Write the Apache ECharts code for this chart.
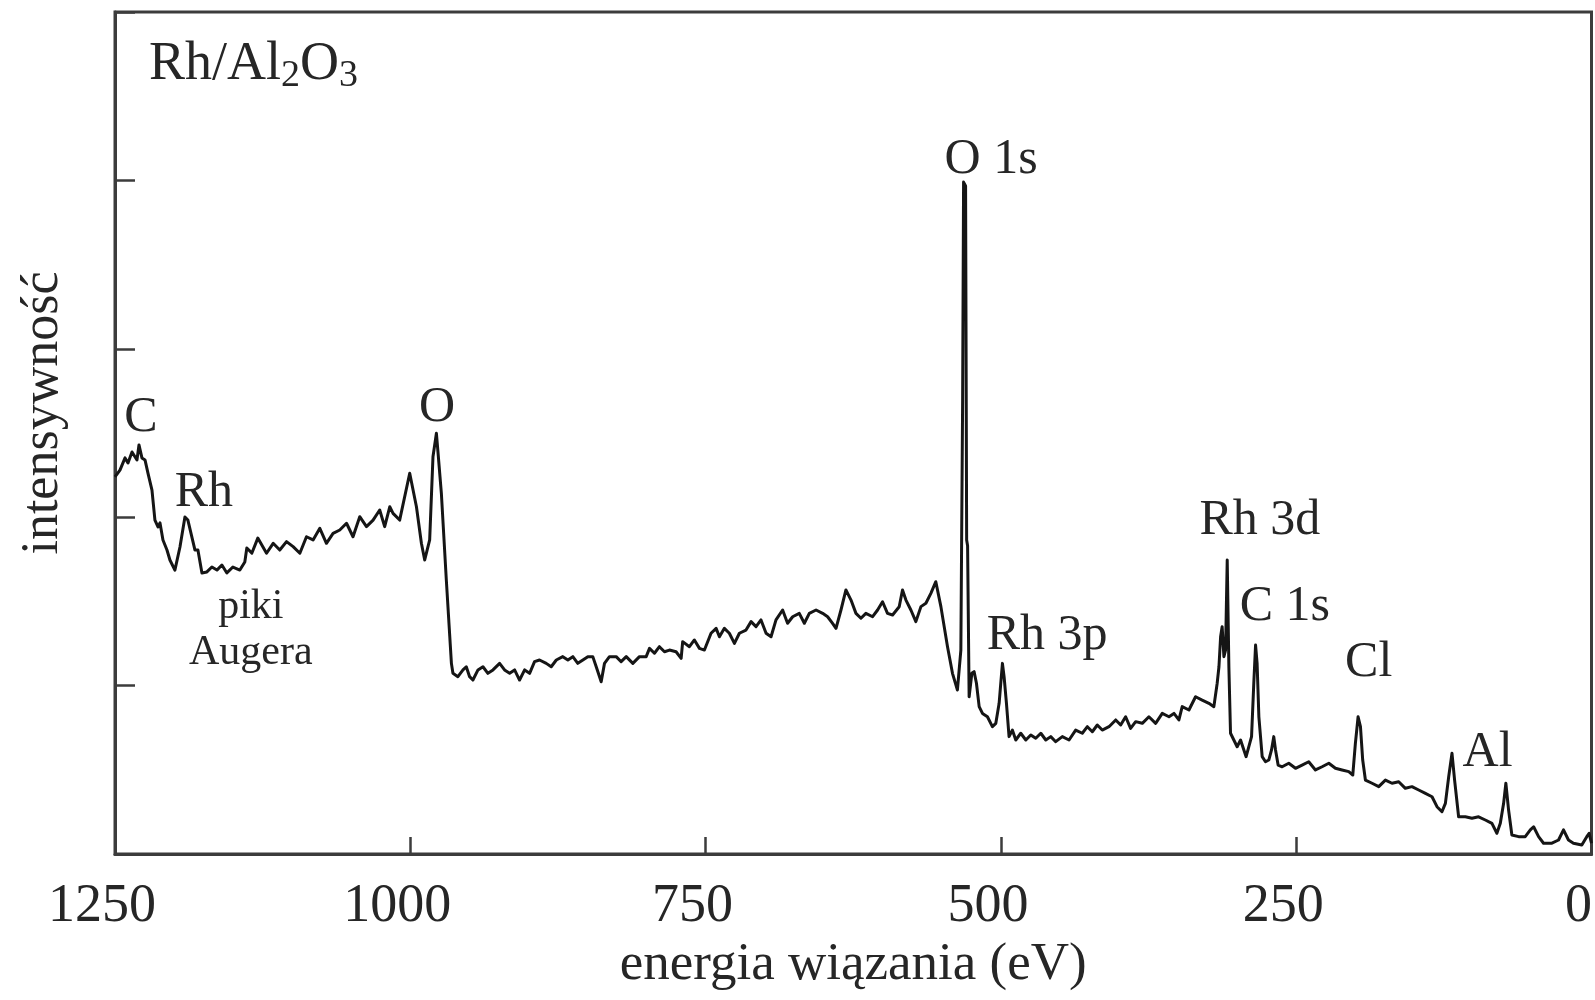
<!DOCTYPE html>
<html>
<head>
<meta charset="utf-8">
<script src="https://cdn.jsdelivr.net/npm/echarts@6/dist/echarts.min.js"></script>
<style>
html,body{margin:0;padding:0;background:#fff;}
#chart{width:1595px;height:1000px;}
</style>
</head>
<body>
<div id="chart"></div>
<script>
// Binding energy (eV) and intensity (arbitrary units, 0..5 = frame height)
const energy = [
1250.0,1245.8,1241.5,1239.0,1235.6,1231.4,1229.7,1227.2,1224.6,1222.1,1218.7,1216.2,1213.6,1211.9,1209.4,1206.0,1203.5,1199.3,1195.0,1190.8,1188.3,1184.9,1182.3,1179.8,1176.4,1172.2,1168.0,1163.7,1159.5,1155.3,1150.2,1144.3,1140.1,1138.4,1134.1,1129.1,
1121.7,1116.1,1110.5,1104.8,1099.2,1093.5,1087.9,1082.3,1076.6,1071.0,1065.4,1059.7,1054.0,1048.5,1042.8,1037.1,1031.5,1025.9,1021.7,1017.4,1014.6,1009.0,1000.5,994.8,990.6,987.8,983.6,980.8,977.9,976.6,973.7,969.5,965.2,
963.9,959.7,955.4,952.6,949.8,947.0,942.7,938.5,934.3,930.0,924.4,920.2,915.9,911.7,907.5,903.2,899.0,894.8,890.6,884.9,880.7,876.4,870.9,866.6,862.4,858.2,853.9,849.7,845.5,842.6,838.4,835.6,831.4,825.7,821.5,817.2,811.6,806.0,800.3,797.5,793.3,789.1,784.8,780.6,775.0,770.7,769.4,763.7,759.5,755.2,751.0,745.4,741.1,738.3,734.1,729.9,725.6,721.4,715.8,711.5,707.3,703.1,698.8,694.6,690.4,684.8,680.6,676.3,670.7,666.4,662.2,656.5,650.9,646.7,642.5,639.6,635.4,631.2,626.9,622.7,618.5,614.3,608.6,604.4,600.2,596.0,591.7,586.1,
583.3,580.4,576.2,572.0,567.7,563.5,559.3,555.1,550.8,545.2,541.0,536.8,533.9,532.4,531.6,529.9,529.0,528.2,526.9,524.6,522.7,520.7,518.4,515.6,511.4,507.2,504.3,501.5,500.1,498.7,497.3,495.3,493.1,490.3,487.4,483.2,478.9,474.7,470.5,466.2,462.0,457.8,453.6,448.0,442.3,436.7,431.1,426.8,422.6,418.4,414.2,408.5,402.8,398.6,394.4,390.2,385.9,380.3,374.7,369.0,363.4,357.7,353.5,349.3,346.5,340.8,335.2,329.6,323.9,319.7,316.9,
315.4,314.0,312.7,311.2,309.8,308.4,307.0,305.6,
302.8,300.0,297.1,294.3,292.4,290.1,287.8,285.9,284.4,283.1,281.6,278.8,276.0,273.2,270.9,269.0,267.5,265.3,261.9,256.3,250.6,245.0,239.4,233.7,228.1,222.4,216.8,211.2,205.5,202.1,199.9,197.6,195.6,193.7,191.4,185.8,180.1,174.5,168.9,163.2,157.6,152.0,146.3,140.6,135.0,130.8,126.6,123.7,120.9,118.1,115.9,112.5,106.8,101.2,95.6,89.9,84.3,80.1,77.2,74.4,72.5,70.2,67.4,61.7,56.1,51.8,49.0,44.8,40.6,33.5,27.9,23.7,19.5,15.3,8.2,4.0,2.0,0.0
];
const intensity = [
2.239,2.280,2.352,2.322,2.387,2.340,2.429,2.352,2.340,2.262,2.161,1.983,1.942,1.966,1.865,1.805,1.746,1.686,1.823,2.001,1.983,1.882,1.805,1.805,1.669,1.675,1.704,1.686,1.716,1.669,1.704,1.686,1.734,1.817,1.787,1.876,
1.786,1.845,1.805,1.855,1.825,1.786,1.884,1.865,1.934,1.845,1.904,1.924,1.964,1.884,2.003,1.944,1.983,2.043,1.944,2.062,2.023,1.983,2.261,2.062,1.845,1.746,1.865,2.359,2.498,2.389,2.142,1.627,1.132,
1.073,1.053,1.093,1.112,1.053,1.033,1.093,1.112,1.073,1.093,1.132,1.093,1.073,1.093,1.033,1.093,1.073,1.142,1.152,1.132,1.112,1.152,1.172,1.152,1.172,1.132,1.152,1.172,1.172,1.112,1.023,1.132,1.172,1.172,1.142,1.172,1.132,1.172,1.172,1.221,1.192,1.231,1.201,1.211,1.201,1.162,1.261,1.231,1.271,1.221,1.211,1.311,1.340,1.290,1.340,1.311,1.251,1.311,1.330,1.380,1.350,1.390,1.311,1.290,1.390,1.449,1.370,1.409,1.429,1.370,1.429,1.449,1.429,1.409,1.370,1.340,1.449,1.568,1.508,1.429,1.400,1.429,1.409,1.449,1.498,1.429,1.419,1.468,
1.568,1.508,1.449,1.380,1.469,1.489,1.548,1.617,1.469,1.231,1.073,0.974,1.211,2.696,3.990,3.967,1.865,1.830,0.934,1.073,1.083,1.014,0.875,0.835,0.815,0.756,0.776,0.895,1.014,1.132,1.053,0.895,0.697,0.736,0.677,0.717,0.677,0.707,0.687,0.717,0.677,0.697,0.667,0.697,0.677,0.736,0.717,0.756,0.726,0.766,0.736,0.756,0.796,0.766,0.815,0.746,0.786,0.776,0.815,0.776,0.835,0.815,0.835,0.796,0.875,0.855,0.934,0.914,0.895,0.875,1.014,
1.112,1.290,1.350,1.172,1.211,1.746,1.112,0.717,
0.677,0.637,0.677,0.618,0.578,0.637,0.697,1.014,1.241,1.132,0.815,0.578,0.548,0.558,0.618,0.697,0.618,0.528,0.518,0.539,0.509,0.528,0.548,0.499,0.518,0.539,0.509,0.499,0.489,0.469,0.657,0.815,0.756,0.558,0.439,0.420,0.400,0.439,0.420,0.429,0.390,0.400,0.380,0.360,0.340,0.281,0.251,0.301,0.459,0.598,0.439,0.221,0.221,0.212,0.221,0.202,0.182,0.123,0.182,0.301,0.420,0.261,0.113,0.103,0.103,0.143,0.162,0.103,0.064,0.064,0.083,0.143,0.083,0.064,0.053,0.103,0.123,0.064
];
// Axis ticks (eV)
const xTickValues = [1250, 1000, 750, 500, 250, 0];
// Peak annotations: [text, energy, intensity]
const peakLabels = ['C', 'Rh', 'O', 'O 1s', 'Rh 3p', 'Rh 3d', 'C 1s', 'Cl', 'Al'];
const peakEnergy = [1228.0, 1174.7, 977.3, 508.3, 460.9, 280.8, 259.6, 188.6, 88.0];
const peakLevel  = [2.589, 2.144, 2.648, 4.121, 1.294, 1.977, 1.467, 1.134, 0.600];
const augerLines = ['piki', 'Augera'];
const augerEnergy = [1135.0, 1135.0];
const augerLevel = [1.469, 1.194];
const sampleName = {energy: 1221.2, level: 4.685};

const SERIF = '"Liberation Serif", "Times New Roman", serif';
const INK = '#262626';
const FRAME = '#3c3c3c';

const chart = echarts.init(document.getElementById('chart'), null, {renderer: 'canvas'});
const option = {
  animation: false,
  backgroundColor: '#ffffff',
  grid: {left: 115, right: 2, top: 12, bottom: 146, show: true, borderColor: FRAME, borderWidth: 3, backgroundColor: 'transparent'},
  xAxis: {
    type: 'value', inverse: true, min: 0, max: 1250, interval: 250,
    axisLine: {show: true, onZero: false, lineStyle: {color: FRAME, width: 3}},
    axisTick: {show: true, inside: true, length: 17, lineStyle: {color: FRAME, width: 2.5}},
    axisLabel: {show: true, margin: 26, fontFamily: SERIF, fontSize: 54, color: INK,
      padding: [0, 26, 0, 0], showMinLabel: true, showMaxLabel: true,
      formatter: v => xTickValues.indexOf(v) >= 0 ? String(v) : ''},
    splitLine: {show: false},
    name: 'energia wiązania (eV)', nameLocation: 'middle', nameGap: 85,
    nameTextStyle: {fontFamily: SERIF, fontSize: 53, color: INK}
  },
  yAxis: {
    type: 'value', min: 0, max: 5, interval: 1,
    axisLine: {show: true, onZero: false, lineStyle: {color: FRAME, width: 3}},
    axisTick: {show: true, inside: true, length: 20, lineStyle: {color: FRAME, width: 2.5}},
    axisLabel: {show: false},
    splitLine: {show: false},
    name: 'intensywność', nameLocation: 'middle', nameGap: 46,
    nameTextStyle: {fontFamily: SERIF, fontSize: 52, color: INK, padding: [0, 0, 0, 40]}
  },
  series: [{
    type: 'line',
    data: energy.map((e, i) => [e, intensity[i]]),
    showSymbol: false, symbol: 'none', clip: true,
    lineStyle: {color: '#151515', width: 3, join: 'round'},
    z: 3
  }]
};
chart.setOption(option);

const g = [];
peakLabels.forEach((t, i) => {
  const p = chart.convertToPixel({gridIndex: 0}, [peakEnergy[i], peakLevel[i]]);
  g.push({type: 'text', x: p[0], y: p[1], z: 10,
    style: {text: t, font: '50px ' + SERIF, fill: INK, textAlign: 'center', textVerticalAlign: 'middle'}});
});
augerLines.forEach((t, i) => {
  const p = chart.convertToPixel({gridIndex: 0}, [augerEnergy[i], augerLevel[i]]);
  g.push({type: 'text', x: p[0], y: p[1], z: 10,
    style: {text: t, font: '42px ' + SERIF, fill: INK, textAlign: 'center', textVerticalAlign: 'middle'}});
});
const sp = chart.convertToPixel({gridIndex: 0}, [sampleName.energy, sampleName.level]);
g.push({type: 'text', x: sp[0], y: sp[1], z: 10,
  style: {text: '{a|Rh/Al}{s|2}{a|O}{s|3}', textAlign: 'left', textVerticalAlign: 'middle',
    rich: {
      a: {fontFamily: SERIF, fontSize: 54, lineHeight: 60, fill: INK, color: INK},
      s: {fontFamily: SERIF, fontSize: 38, lineHeight: 41, verticalAlign: 'bottom', fill: INK, color: INK}
    }}});
chart.setOption({graphic: g});
</script>
</body>
</html>
